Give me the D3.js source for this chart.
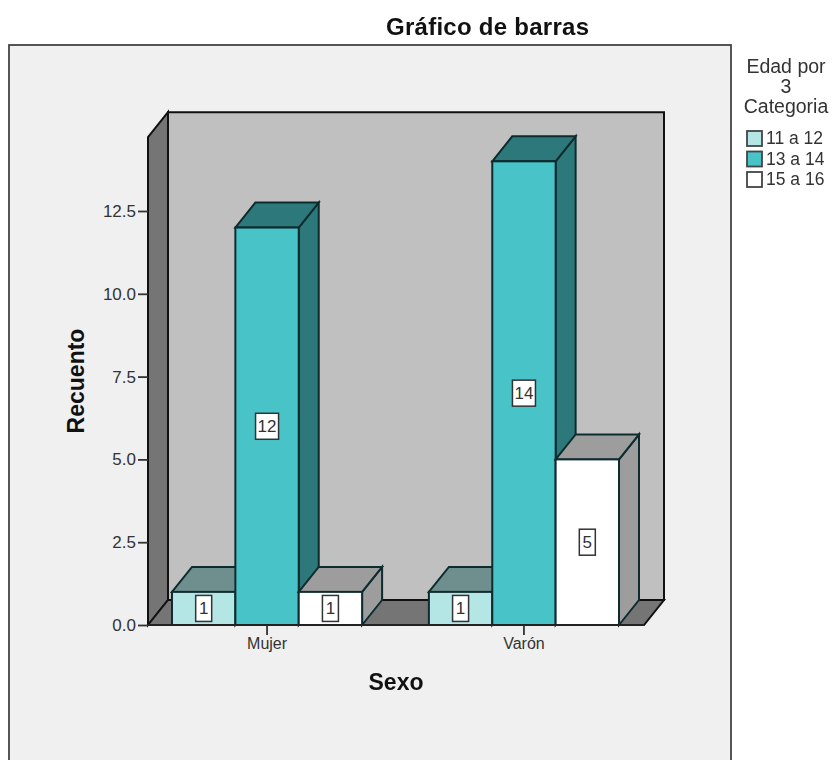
<!DOCTYPE html>
<html>
<head>
<meta charset="utf-8">
<script src="https://cdn.jsdelivr.net/npm/d3@7"></script>
<style>
  html, body { margin: 0; padding: 0; background: #fff; }
  svg { display: block; filter: blur(0.5px); }
  text { font-family: "Liberation Sans", Arial, sans-serif; fill: #333; }
  .title { fill: #111; font-weight: bold; }
</style>
</head>
<body>
<div id="chart"></div>
<script>
var sexes = ["Mujer", "Varón"];
var ageGroups = ["11 a 12", "13 a 14", "15 a 16"];
var mujerCounts = [1, 12, 1];
var varonCounts = [1, 14, 5];
var yTicks = [0, 2.5, 5, 7.5, 10, 12.5];
var legendTitle = ["Edad por", "3", "Categoria"];

var frontColors = ["#b5e6e6", "#48c3c8", "#ffffff"];
var topColors = ["#6f8f8f", "#2d787a", "#9d9d9d"];
var sideColors = ["#6f8f8f", "#2d787a", "#9d9d9d"];

const width = 832, height = 760;
const plot = { left: 148, right: 644, bottom: 625 };
const depth = { x: 20, y: -25 };   // offset of the back wall

var svg = d3.select("#chart").append("svg")
    .attr("width", width)
    .attr("height", height);

// Outer panel, its bottom edge runs off the page
svg.append("rect")
    .attr("x", 9).attr("y", 45)
    .attr("width", 722).attr("height", 740)
    .attr("fill", "#f0f0f0")
    .attr("stroke", "#444").attr("stroke-width", 1.8);

// Scales
const y = d3.scaleLinear().domain([0, 12.5]).range([plot.bottom, 211]);
const x0 = d3.scaleBand().domain(sexes).range([172, 619]).paddingInner(0.26);
const x1 = d3.scaleBand().domain(ageGroups).range([0, x0.bandwidth()]);

var top3d = y(14.73);   // top of the plot box in front
function poly(points) { return points.map(p => p.join(",")).join(" "); }

var wallStroke = "#111";

// Back wall, side wall and floor
svg.append("polygon")
    .attr("points", poly([
        [plot.left + depth.x, top3d + depth.y],
        [plot.right + depth.x, top3d + depth.y],
        [plot.right + depth.x, plot.bottom + depth.y],
        [plot.left + depth.x, plot.bottom + depth.y]]))
    .attr("fill", "#c0c0c0").attr("stroke", wallStroke).attr("stroke-width", 2);

svg.append("polygon")
    .attr("points", poly([
        [plot.left, top3d],
        [plot.left + depth.x, top3d + depth.y],
        [plot.left + depth.x, plot.bottom + depth.y],
        [plot.left, plot.bottom]]))
    .attr("fill", "#757575").attr("stroke", wallStroke).attr("stroke-width", 2);

svg.append("polygon")
    .attr("points", poly([
        [plot.left, plot.bottom],
        [plot.left + depth.x, plot.bottom + depth.y],
        [plot.right + depth.x, plot.bottom + depth.y],
        [plot.right, plot.bottom]]))
    .attr("fill", "#757575").attr("stroke", wallStroke).attr("stroke-width", 2);

// Bars, left to right so each one overlaps the previous side face
var groups = [mujerCounts, varonCounts];
var barStroke = "#0e2c2e";

groups.forEach(function (counts, g) {
    var group = svg.append("g")
        .attr("transform", "translate(" + x0(sexes[g]) + ",0)");

    counts.forEach(function (d, i) {
        var l = x1(ageGroups[i]);
        var r = l + x1.bandwidth();
        var t = y(d);
        var b = y(0);

        group.append("polygon")
            .attr("points", poly([[r, t], [r + depth.x, t + depth.y], [r + depth.x, b + depth.y], [r, b]]))
            .attr("fill", sideColors[i]).attr("stroke", barStroke).attr("stroke-width", 2);
        group.append("polygon")
            .attr("points", poly([[l, t], [l + depth.x, t + depth.y], [r + depth.x, t + depth.y], [r, t]]))
            .attr("fill", topColors[i]).attr("stroke", barStroke).attr("stroke-width", 2);
        group.append("rect")
            .attr("x", l).attr("y", t)
            .attr("width", r - l).attr("height", b - t)
            .attr("fill", frontColors[i]).attr("stroke", barStroke).attr("stroke-width", 2);
    });

    // Value labels go on top of all three bars
    counts.forEach(function (d, i) {
        var cx = x1(ageGroups[i]) + x1.bandwidth() / 2;
        var cy = y(d / 2);
        var boxW = String(d).length > 1 ? 23 : 16;
        group.append("rect")
            .attr("x", cx - boxW / 2).attr("y", cy - 13)
            .attr("width", boxW).attr("height", 26)
            .attr("fill", "#fff").attr("stroke", "#333").attr("stroke-width", 1.5);
        group.append("text")
            .attr("x", cx).attr("y", cy + 6)
            .attr("text-anchor", "middle")
            .style("font-size", "17px")
            .text(d);
    });
});

// Axes
const yAxis = d3.axisLeft(y)
    .tickValues(yTicks)
    .tickSize(10)
    .tickSizeOuter(0)
    .tickFormat(d3.format(".1f"));

var yG = svg.append("g")
    .attr("transform", "translate(" + plot.left + ",0)")
    .call(yAxis);
yG.select(".domain").remove();
yG.selectAll("line").attr("stroke", "#333").attr("stroke-width", 1.8);
yG.selectAll("text")
    .attr("x", -12)
    .style("font-size", "17px")
    .style("font-family", "'Liberation Sans', Arial, sans-serif");

const xAxis = d3.axisBottom(x0).tickSize(10).tickSizeOuter(0);
var xG = svg.append("g")
    .attr("transform", "translate(0," + plot.bottom + ")")
    .call(xAxis);
xG.select(".domain").remove();
xG.selectAll("line").attr("stroke", "#333").attr("stroke-width", 1.8);
xG.selectAll("text")
    .attr("y", 13)
    .style("font-size", "16px")
    .style("font-family", "'Liberation Sans', Arial, sans-serif");

// Front edge of the floor
svg.append("line")
    .attr("x1", plot.left).attr("x2", plot.right)
    .attr("y1", plot.bottom).attr("y2", plot.bottom)
    .attr("stroke", "#222").attr("stroke-width", 2);

// Titles
svg.append("text")
    .attr("class", "title")
    .attr("x", 487.5).attr("y", 35)
    .attr("text-anchor", "middle")
    .attr("textLength", 203)
    .style("font-size", "24px")
    .text("Gráfico de barras");

svg.append("text")
    .attr("class", "title")
    .attr("x", 396).attr("y", 690)
    .attr("text-anchor", "middle")
    .style("font-size", "23px")
    .text("Sexo");

svg.append("text")
    .attr("class", "title")
    .attr("transform", "translate(84,381) rotate(-90)")
    .attr("text-anchor", "middle")
    .style("font-size", "23px")
    .text("Recuento");

// Legend
legendTitle.forEach(function (line, i) {
    svg.append("text")
        .attr("x", 786).attr("y", 73 + i * 20)
        .attr("text-anchor", "middle")
        .style("font-size", "19.5px")
        .text(line);
});

ageGroups.forEach(function (label, i) {
    var rowY = 138 + i * 20.5;
    svg.append("rect")
        .attr("x", 747).attr("y", rowY - 7)
        .attr("width", 15).attr("height", 15)
        .attr("fill", frontColors[i])
        .attr("stroke", "#444").attr("stroke-width", 1.8);
    svg.append("text")
        .attr("x", 766).attr("y", rowY + 6)
        .style("font-size", "17.5px")
        .text(label);
});
</script>
</body>
</html>
